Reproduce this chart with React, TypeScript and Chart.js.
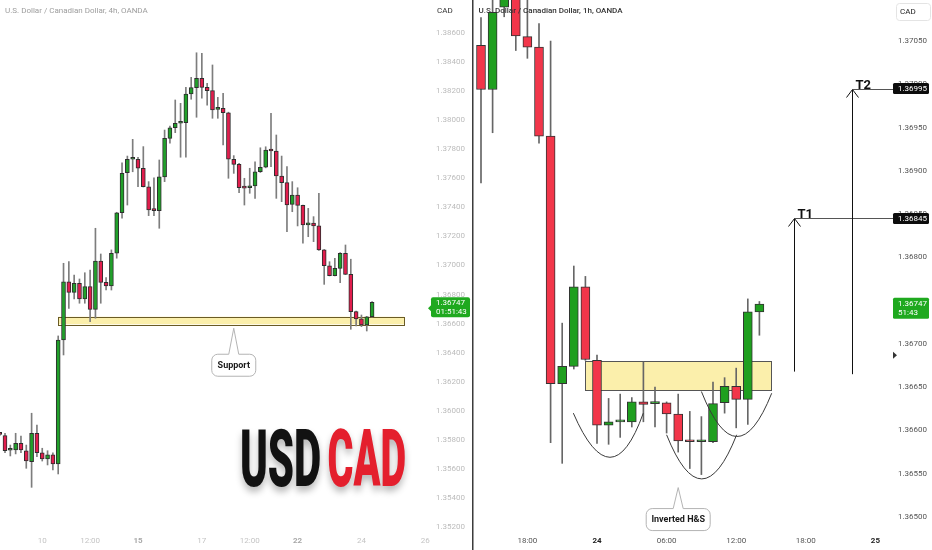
import React, { useEffect, useRef } from "react";
import { Chart, registerables } from "chart.js";
Chart.register(...registerables);

// ---------------- Left panel: USDCAD 4h ----------------
const leftIndex = Array.from({ length: 71 }, (_, i) => i);
const leftOpen = [
  1.35840, 1.35829, 1.35728, 1.35730, 1.35776, 1.35725, 1.35650, 1.35845, 1.35711, 1.35668,
  1.35696, 1.35634, 1.36487, 1.36888, 1.36815, 1.36877, 1.36769, 1.36854, 1.36698, 1.37031,
  1.36884, 1.36859, 1.37084, 1.37363, 1.37639, 1.37731, 1.37731, 1.37669, 1.37542, 1.37382,
  1.37378, 1.37610, 1.37875, 1.37948, 1.37979, 1.37983, 1.38180, 1.38224, 1.38288, 1.38226,
  1.38203, 1.38074, 1.38082, 1.38051, 1.37731, 1.37696, 1.37535, 1.37535, 1.37547, 1.37645,
  1.37676, 1.37795, 1.37788, 1.37616, 1.37570, 1.37421, 1.37485, 1.37414, 1.37279, 1.37291,
  1.37272, 1.37107, 1.36998, 1.36930, 1.36980, 1.37084, 1.36939, 1.36682, 1.36632, 1.36590,
  1.36647,
];
const leftClose = [
  1.35838, 1.35725, 1.35730, 1.35776, 1.35730, 1.35654, 1.35845, 1.35711, 1.35668, 1.35696,
  1.35634, 1.36487, 1.36888, 1.36815, 1.36877, 1.36769, 1.36854, 1.36698, 1.37031, 1.36884,
  1.36859, 1.37084, 1.37363, 1.37634, 1.37731, 1.37737, 1.37669, 1.37542, 1.37382, 1.37378,
  1.37610, 1.37875, 1.37948, 1.37979, 1.37983, 1.38180, 1.38224, 1.38288, 1.38226, 1.38203,
  1.38070, 1.38077, 1.38051, 1.37731, 1.37696, 1.37535, 1.37532, 1.37540, 1.37645, 1.37676,
  1.37795, 1.37788, 1.37616, 1.37570, 1.37416, 1.37485, 1.37414, 1.37279, 1.37282, 1.37272,
  1.37107, 1.36998, 1.36930, 1.36980, 1.37084, 1.36939, 1.36682, 1.36632, 1.36590, 1.36647,
  1.36747,
];
const leftHigh = [
  1.35850, 1.35845, 1.35764, 1.35845, 1.35826, 1.35764, 1.35983, 1.35902, 1.35742, 1.35725,
  1.35711, 1.36515, 1.37015, 1.37026, 1.36934, 1.36907, 1.36950, 1.36969, 1.37256, 1.37079,
  1.36916, 1.37107, 1.37366, 1.37707, 1.37753, 1.37868, 1.37745, 1.37818, 1.37577, 1.37604,
  1.37726, 1.37932, 1.37960, 1.38139, 1.38116, 1.38226, 1.38295, 1.38464, 1.38460, 1.38254,
  1.38380, 1.38157, 1.38185, 1.38055, 1.37756, 1.37703, 1.37600, 1.37669, 1.37714, 1.37810,
  1.37817, 1.38047, 1.37898, 1.37753, 1.37680, 1.37577, 1.37535, 1.37416, 1.37393, 1.37336,
  1.37497, 1.37110, 1.37026, 1.37050, 1.37088, 1.37141, 1.37043, 1.36686, 1.36659, 1.36650,
  1.36751,
];
const leftLow = [
  1.35828, 1.35711, 1.35689, 1.35703, 1.35711, 1.35604, 1.35473, 1.35684, 1.35654, 1.35627,
  1.35592, 1.35565, 1.36384, 1.36705, 1.36769, 1.36740, 1.36740, 1.36613, 1.36637, 1.36740,
  1.36831, 1.36831, 1.37050, 1.37325, 1.37416, 1.37645, 1.37542, 1.37540, 1.37343, 1.37343,
  1.37256, 1.37577, 1.37841, 1.37914, 1.37745, 1.37745, 1.38144, 1.38020, 1.38151, 1.38104,
  1.38013, 1.38013, 1.37830, 1.37600, 1.37634, 1.37501, 1.37416, 1.37497, 1.37462, 1.37640,
  1.37672, 1.37680, 1.37462, 1.37439, 1.37233, 1.37370, 1.37272, 1.37153, 1.37198, 1.37164,
  1.37104, 1.36870, 1.36928, 1.36928, 1.36881, 1.36937, 1.36561, 1.36584, 1.36579, 1.36549,
  1.36645,
];
const leftPriceTicks = [
  1.352, 1.354, 1.356, 1.358, 1.360, 1.362, 1.364, 1.366, 1.368, 1.370,
  1.372, 1.374, 1.376, 1.378, 1.380, 1.382, 1.384, 1.386,
];
const leftTimeTicks = [8, 17, 26, 38, 47, 56, 68, 80];
const leftTimeLabels = ["10", "12:00", "15", "17", "12:00", "22", "24", "26"];
const leftBoldLabels = ["15", "22"];
const supportZone = { from: 11, to: 76, top: 1.36647, bottom: 1.36595 };
const supportCallout = { x: 44, price: 1.36568, text: "Support" };
const leftCountdown = "01:51:43";

// ---------------- Right panel: USDCAD 1h ----------------
const rightHours = Array.from({ length: 25 }, (_, i) => i - 10);
const rightOpen = [
  1.37045, 1.36994, 1.37089, 1.37120, 1.37055, 1.37043, 1.36940, 1.36654, 1.36674, 1.36766,
  1.36681, 1.36606, 1.36610, 1.36610, 1.36633, 1.36631, 1.36632, 1.36619, 1.36589, 1.36587,
  1.36587, 1.36632, 1.36651, 1.36636, 1.36737,
];
const rightHigh = [
  1.37077, 1.37100, 1.37140, 1.37140, 1.37110, 1.37070, 1.37050, 1.36724, 1.36790, 1.36778,
  1.36687, 1.36637, 1.36642, 1.36638, 1.36679, 1.36650, 1.36633, 1.36642, 1.36622, 1.36616,
  1.36656, 1.36661, 1.36672, 1.36752, 1.36749,
];
const rightLow = [
  1.36886, 1.36944, 1.37078, 1.37039, 1.37030, 1.36932, 1.36586, 1.36562, 1.36671, 1.36681,
  1.36585, 1.36584, 1.36592, 1.36604, 1.36610, 1.36604, 1.36597, 1.36575, 1.36556, 1.36549,
  1.36586, 1.36620, 1.36603, 1.36607, 1.36710,
];
const rightClose = [
  1.36994, 1.37083, 1.37120, 1.37056, 1.37043, 1.36940, 1.36654, 1.36674, 1.36766, 1.36682,
  1.36606, 1.36610, 1.36611, 1.36633, 1.36630, 1.36632, 1.36619, 1.36588, 1.36587, 1.36588,
  1.36631, 1.36651, 1.36636, 1.36737, 1.36746,
];
const rightPriceTicks = [
  1.365, 1.3655, 1.366, 1.3665, 1.367, 1.3675, 1.368, 1.3685, 1.369, 1.3695, 1.370, 1.3705,
];
const rightTimeTicks = [-6, 0, 6, 12, 18, 24];
const rightTimeLabels = ["18:00", "24", "06:00", "12:00", "18:00", "25"];
const rightBoldLabels = ["24", "25"];
const neckZone = { from: -1, to: 15, top: 1.3668, bottom: 1.36646 };
const leftShoulder = [[-2.04, 1.3662], [1.12, 1.36569], [3.99, 1.3662]];
const headArc = [[6.0, 1.36595], [9.03, 1.36544], [12.04, 1.36595]];
const rightShoulder = [[9.0, 1.36645], [12.04, 1.36593], [15.06, 1.36643]];
const targets = [
  { label: "T1", hour: 17, from: 1.36668, to: 1.36845 },
  { label: "T2", hour: 22, from: 1.36665, to: 1.36995 },
];
const hsCallout = { x: 7, price: 1.36534, text: "Inverted H&S" };
const scaleMarkerPrice = 1.36687;
const rightCountdown = "51:43";
const lastPrice = 1.36747;

const FONT = "Roboto, 'Liberation Sans', sans-serif";

function candleDatasets(xs: number[], o: number[], h: number[], l: number[], c: number[],
  up: string, down: string, border: string, wick: string, bodyW: number): any[] {
  const colors = xs.map((_, i) => (c[i] >= o[i] ? up : down));
  return [
    {
      type: "bar", label: "body",
      data: xs.map((x, i) => ({ x, y: [o[i], c[i]] })),
      backgroundColor: colors, borderColor: border, borderWidth: 1, borderSkipped: false,
      barThickness: bodyW, minBarLength: 2, grouped: false, order: 0,
    },
    {
      type: "bar", label: "wick",
      data: xs.map((x, i) => ({ x, y: [l[i], h[i]] })),
      backgroundColor: wick, borderWidth: 0, barThickness: 1, grouped: false, order: 1,
    },
  ];
}

function roundRect(ctx: CanvasRenderingContext2D, x: number, y: number, w: number, h: number, r: number) {
  ctx.beginPath();
  ctx.moveTo(x + r, y);
  ctx.lineTo(x + w - r, y);
  ctx.arcTo(x + w, y, x + w, y + r, r);
  ctx.lineTo(x + w, y + h - r);
  ctx.arcTo(x + w, y + h, x + w - r, y + h, r);
  ctx.lineTo(x + r, y + h);
  ctx.arcTo(x, y + h, x, y + h - r, r);
  ctx.lineTo(x, y + r);
  ctx.arcTo(x, y, x + r, y, r);
  ctx.closePath();
}

function drawCallout(ctx: CanvasRenderingContext2D, ax: number, ay: number, gap: number,
  w: number, h: number, text: string) {
  const top = ay + gap, x0 = ax - w / 2, x1 = ax + w / 2, y1 = top + h, r = 6, n = 5;
  ctx.save();
  ctx.beginPath();
  ctx.moveTo(x0 + r, top);
  ctx.lineTo(ax - n, top);
  ctx.lineTo(ax, ay);
  ctx.lineTo(ax + n, top);
  ctx.lineTo(x1 - r, top);
  ctx.arcTo(x1, top, x1, top + r, r);
  ctx.lineTo(x1, y1 - r);
  ctx.arcTo(x1, y1, x1 - r, y1, r);
  ctx.lineTo(x0 + r, y1);
  ctx.arcTo(x0, y1, x0, y1 - r, r);
  ctx.lineTo(x0, top + r);
  ctx.arcTo(x0, top, x0 + r, top, r);
  ctx.closePath();
  ctx.fillStyle = "#ffffff";
  ctx.fill();
  ctx.strokeStyle = "#b4b4b4";
  ctx.lineWidth = 1;
  ctx.stroke();
  ctx.fillStyle = "#1a1a1a";
  ctx.font = `bold 9px ${FONT}`;
  ctx.textAlign = "center";
  ctx.textBaseline = "middle";
  ctx.fillText(text, ax, top + h / 2 + 0.5);
  ctx.restore();
}

function drawZone(chart: any, zone: any, fill: string, stroke: string) {
  const { ctx, scales: { x, y } } = chart;
  const x0 = x.getPixelForValue(zone.from), x1 = x.getPixelForValue(zone.to);
  const y0 = y.getPixelForValue(zone.top), y1 = y.getPixelForValue(zone.bottom);
  ctx.save();
  ctx.fillStyle = fill;
  ctx.fillRect(x0, y0, x1 - x0, y1 - y0);
  ctx.strokeStyle = stroke;
  ctx.lineWidth = 1;
  ctx.strokeRect(Math.round(x0) + 0.5, Math.round(y0) + 0.5, Math.round(x1 - x0), Math.round(y1 - y0));
  ctx.restore();
}

function makeConfig(opts: any): any {
  return {
    type: "bar",
    data: { datasets: opts.datasets },
    options: {
      animation: false,
      responsive: false,
      maintainAspectRatio: false,
      events: [],
      layout: { padding: 0, autoPadding: false },
      plugins: { legend: { display: false }, tooltip: { enabled: false } },
      scales: {
        x: {
          type: "linear", min: opts.xMin, max: opts.xMax, offset: false,
          grid: { display: false, drawTicks: false }, border: { display: false },
          afterBuildTicks: (s: any) => { s.ticks = opts.timeTicks.map((v: number) => ({ value: v })); },
          afterFit: (s: any) => { s.height = 20; s.paddingLeft = 0; s.paddingRight = 0; },
          ticks: {
            autoSkip: false, maxRotation: 0, minRotation: 0, padding: 6,
            callback: (v: number) => { const k = opts.timeTicks.indexOf(v); return k >= 0 ? opts.timeLabels[k] : ""; },
            color: (c: any) => (opts.boldLabels.includes(opts.timeLabels[c.index]) ? opts.boldColor : opts.timeColor),
            font: (c: any) => ({ family: FONT, size: 8, weight: opts.boldLabels.includes(opts.timeLabels[c.index]) ? "bold" : "normal" }),
          },
        },
        y: {
          type: "linear", position: "right", min: opts.yMin, max: opts.yMax,
          grid: { display: false, drawTicks: false }, border: { display: false },
          afterBuildTicks: (s: any) => { s.ticks = opts.priceTicks.map((v: number) => ({ value: v })); },
          afterFit: (s: any) => { s.width = opts.axisW; s.paddingTop = 0; s.paddingBottom = 0; },
          ticks: {
            autoSkip: false, padding: opts.tickPad, crossAlign: "near",
            color: opts.priceColor, font: { family: FONT, size: 8 },
            callback: (v: number) => v.toFixed(5),
          },
        },
      },
    },
    plugins: [opts.plugin],
  };
}

const leftPlugin = {
  id: "leftDeco",
  beforeDatasetsDraw(chart: any) {
    drawZone(chart, supportZone, "#fbefab", "#6a5b25");
  },
  afterDraw(chart: any) {
    const { ctx, chartArea, scales: { x, y } } = chart;
    ctx.save();
    // title
    ctx.font = `8px ${FONT}`;
    ctx.textBaseline = "middle";
    ctx.textAlign = "left";
    ctx.fillStyle = "#9d9d9d";
    ctx.fillText("U.S. Dollar / Canadian Dollar, 4h, OANDA", 5, 11);
    ctx.fillStyle = "#333333";
    ctx.fillText("CAD", chartArea.right + 7, 11);
    // support callout
    drawCallout(ctx, x.getPixelForValue(supportCallout.x), y.getPixelForValue(supportCallout.price), 26, 44, 22, supportCallout.text);
    // USDCAD wordmark, fitted to its ink box
    ctx.font = `900 79px ${FONT}`;
    ctx.textBaseline = "alphabetic";
    ctx.textAlign = "left";
    const fit = (txt: string, x0: number, w: number, color: string) => {
      const m = ctx.measureText(txt);
      const ink = m.actualBoundingBoxLeft + m.actualBoundingBoxRight;
      const k = w / ink;
      ctx.save();
      ctx.shadowColor = "rgba(0,0,0,0.28)";
      ctx.shadowBlur = 7;
      ctx.shadowOffsetY = 5;
      ctx.translate(x0 + m.actualBoundingBoxLeft * k, 486);
      ctx.scale(k, 1);
      ctx.fillStyle = color;
      ctx.fillText(txt, 0, 0);
      ctx.restore();
    };
    fit("USD", 242, 78, "#121212");
    fit("CAD", 328.5, 76.5, "#e41f2d");
    // last price label
    const py = y.getPixelForValue(lastPrice);
    const bx = chartArea.right + 1, by = py - 5, bw = 39, bh = 20;
    ctx.fillStyle = "#1fa91f";
    roundRect(ctx, bx, by, bw, bh, 2);
    ctx.fill();
    ctx.beginPath();
    ctx.moveTo(bx, py + 3);
    ctx.lineTo(bx - 3, py + 6);
    ctx.lineTo(bx, py + 9);
    ctx.fill();
    ctx.fillStyle = "#ffffff";
    ctx.font = `8px ${FONT}`;
    ctx.textBaseline = "middle";
    ctx.textAlign = "left";
    ctx.fillText(lastPrice.toFixed(5), chartArea.right + 6, py + 1);
    ctx.fillText(leftCountdown, chartArea.right + 6, py + 10);
    ctx.restore();
  },
};

function quadArc(ctx: CanvasRenderingContext2D, x: any, y: any, pts: number[][]) {
  const [s, m, e] = pts.map(([h, p]) => [x.getPixelForValue(h), y.getPixelForValue(p)]);
  const cx = 2 * m[0] - (s[0] + e[0]) / 2;
  const cy = 2 * m[1] - (s[1] + e[1]) / 2;
  ctx.beginPath();
  ctx.moveTo(s[0], s[1]);
  ctx.quadraticCurveTo(cx, cy, e[0], e[1]);
  ctx.stroke();
}

const rightPlugin = {
  id: "rightDeco",
  beforeDatasetsDraw(chart: any) {
    drawZone(chart, neckZone, "#fbefab", "#555555");
  },
  afterDatasetsDraw(chart: any) {
    const { ctx, chartArea, scales: { x, y } } = chart;
    ctx.save();
    ctx.strokeStyle = "#3a3a3a";
    ctx.lineWidth = 1;
    [leftShoulder, headArc, rightShoulder].forEach((a) => quadArc(ctx, x, y, a));
    // targets
    targets.forEach((t) => {
      const tx = Math.round(x.getPixelForValue(t.hour)) + 0.5;
      const y0 = y.getPixelForValue(t.from);
      const y1 = Math.round(y.getPixelForValue(t.to)) + 0.5;
      ctx.strokeStyle = "#111111";
      ctx.beginPath();
      ctx.moveTo(tx, y0);
      ctx.lineTo(tx, y1);
      ctx.moveTo(tx - 6, y1 + 8);
      ctx.lineTo(tx, y1);
      ctx.lineTo(tx + 6, y1 + 8);
      ctx.stroke();
      ctx.strokeStyle = "#555555";
      ctx.beginPath();
      ctx.moveTo(tx, y1);
      ctx.lineTo(chartArea.right, y1);
      ctx.stroke();
      ctx.fillStyle = "#111111";
      ctx.font = `bold 13px ${FONT}`;
      ctx.textAlign = "left";
      ctx.textBaseline = "alphabetic";
      ctx.fillText(t.label, tx + 3, y1 - 1);
    });
    drawCallout(ctx, x.getPixelForValue(hsCallout.x), y.getPixelForValue(hsCallout.price), 21, 64, 22, hsCallout.text);
    ctx.restore();
  },
  afterDraw(chart: any) {
    const { ctx, chartArea, scales: { y } } = chart;
    ctx.save();
    // panel divider
    ctx.fillStyle = "#3c3c3c";
    ctx.fillRect(0, 0, 1, chart.height);
    ctx.fillStyle = "#9a9a9a";
    ctx.fillRect(1, 0, 1, chart.height);
    // title
    ctx.font = `500 8px ${FONT}`;
    ctx.textBaseline = "middle";
    ctx.textAlign = "left";
    ctx.fillStyle = "#333333";
    ctx.fillText("U.S. Dollar / Canadian Dollar, 1h, OANDA", 6.5, 11);
    // CAD box
    ctx.fillStyle = "#ffffff";
    ctx.strokeStyle = "#e4e4e4";
    roundRect(ctx, chartArea.right + 3.5, 3.5, 34, 17, 3);
    ctx.fill();
    ctx.stroke();
    ctx.fillStyle = "#222222";
    ctx.font = `8px ${FONT}`;
    ctx.fillText("CAD", chartArea.right + 7, 12);
    // target labels
    const lx = chartArea.right, lw = 36;
    targets.forEach((t) => {
      const py = y.getPixelForValue(t.to);
      ctx.fillStyle = "#0c0c0c";
      roundRect(ctx, lx, py - 5.5, lw, 11, 1.5);
      ctx.fill();
      ctx.fillStyle = "#ffffff";
      ctx.font = `8px ${FONT}`;
      ctx.fillText(t.to.toFixed(5), lx + 5, py + 0.5);
    });
    // last price
    const py = y.getPixelForValue(lastPrice);
    ctx.fillStyle = "#1fa91f";
    roundRect(ctx, lx, py - 5.5, lw, 21, 1.5);
    ctx.fill();
    ctx.fillStyle = "#ffffff";
    ctx.fillText(lastPrice.toFixed(5), lx + 5, py + 0.5);
    ctx.fillText(rightCountdown, lx + 5, py + 10);
    // scale marker
    const my = y.getPixelForValue(scaleMarkerPrice);
    ctx.fillStyle = "#333333";
    ctx.beginPath();
    ctx.moveTo(lx, my - 3.5);
    ctx.lineTo(lx + 4, my);
    ctx.lineTo(lx, my + 3.5);
    ctx.closePath();
    ctx.fill();
    ctx.restore();
  },
};

function leftConfig() {
  // plot area 0..430 px, candle i at 5 + 5.32*(i-1)
  const step = 5.32, plotW = 430;
  const xMin = 1 - 5 / step;
  return makeConfig({
    datasets: candleDatasets(leftIndex, leftOpen, leftHigh, leftLow, leftClose,
      "#21a02a", "#e11d4d", "#2e2e2e", "#7d7d7d", 4),
    xMin, xMax: xMin + plotW / step,
    yMin: 1.352 - 3 / 14530, yMax: 1.386 + 33 / 14530,
    timeTicks: leftTimeTicks, timeLabels: leftTimeLabels, boldLabels: leftBoldLabels,
    timeColor: "#c4c4c4", boldColor: "#a8a8a8",
    priceTicks: leftPriceTicks, priceColor: "#bcbcbc", axisW: 42, tickPad: 6,
    plugin: leftPlugin,
  });
}

function rightConfig() {
  // plot area 0..421 px (page 472..893), hour h at 125 + 11.6*h
  const step = 11.6, plotW = 421, zero = 125;
  return makeConfig({
    datasets: candleDatasets(rightHours, rightOpen, rightHigh, rightLow, rightClose,
      "#1f9f1f", "#f2364a", "#333333", "#666666", 9),
    xMin: -zero / step, xMax: (plotW - zero) / step,
    yMin: 1.365 - 13 / 86540, yMax: 1.3705 + 41 / 86540,
    timeTicks: rightTimeTicks, timeLabels: rightTimeLabels, boldLabels: rightBoldLabels,
    timeColor: "#555555", boldColor: "#222222",
    priceTicks: rightPriceTicks, priceColor: "#555555", axisW: 39, tickPad: 5,
    plugin: rightPlugin,
  });
}

export default function App() {
  const leftRef = useRef<HTMLCanvasElement>(null);
  const rightRef = useRef<HTMLCanvasElement>(null);
  useEffect(() => {
    const a = new Chart(leftRef.current as HTMLCanvasElement, leftConfig());
    const b = new Chart(rightRef.current as HTMLCanvasElement, rightConfig());
    return () => { a.destroy(); b.destroy(); };
  }, []);
  return (
    <div style={{ position: "fixed", left: 0, top: 0, width: 932, height: 550, background: "#ffffff", overflow: "hidden" }}>
      <canvas ref={leftRef} width={472} height={550} style={{ position: "absolute", left: 0, top: 0, width: 472, height: 550 }} />
      <canvas ref={rightRef} width={460} height={550} style={{ position: "absolute", left: 472, top: 0, width: 460, height: 550 }} />
    </div>
  );
}
